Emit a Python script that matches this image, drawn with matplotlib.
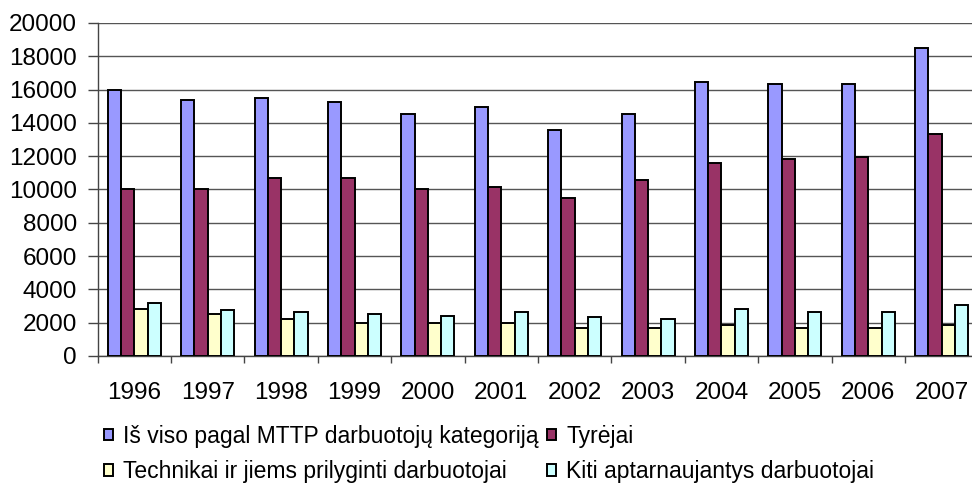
import numpy as np
import matplotlib
matplotlib.use("Agg")
import matplotlib.pyplot as plt
from matplotlib.ticker import MultipleLocator

plt.rcParams['font.family'] = ['Liberation Sans', 'DejaVu Sans']

# Data
years = ["1996", "1997", "1998", "1999", "2000", "2001",
         "2002", "2003", "2004", "2005", "2006", "2007"]
total = [16000, 15370, 15490, 15270, 14510, 14930, 13550, 14530, 16470, 16350, 16350, 18490]
researchers = [10050, 10050, 10690, 10690, 10010, 10130, 9500, 10550, 11610, 11830, 11950, 13350]
technicians = [2840, 2520, 2200, 1980, 1980, 1980, 1660, 1660, 1860, 1660, 1660, 1860]
others = [3180, 2740, 2640, 2520, 2420, 2640, 2320, 2200, 2840, 2640, 2640, 3080]

labels = ["Iš viso pagal MTTP darbuotojų kategoriją", "Tyrėjai",
          "Technikai ir jiems prilyginti darbuotojai", "Kiti aptarnaujantys darbuotojai"]
colors = ["#9999FF", "#993366", "#FFFFCC", "#CCFFFF"]

fig = plt.figure(figsize=(9.72, 4.84), dpi=100)
ax = fig.add_axes([0.1005, 0.2645, 0.906, 0.688])

x = np.arange(len(years))
w = 0.181
bars = []
for k, (vals, col, lab) in enumerate(zip([total, researchers, technicians, others], colors, labels)):
    b = ax.bar(x + (k - 1.5) * w, vals, width=w, color=col, edgecolor="black",
               linewidth=1.4, label=lab, zorder=3)
    bars.append(b)

ax.set_xlim(-0.5, len(years) - 0.5)
ax.set_ylim(0, 20000)
ax.yaxis.set_major_locator(MultipleLocator(2000))
ax.grid(axis="y", color="#555555", linewidth=1.0, zorder=0)

ax.set_xticks(x)
ax.set_xticklabels(years)
ax.set_xticks(np.arange(-0.5, len(years)), minor=True)
ax.tick_params(axis="x", which="major", length=0, pad=19, labelsize=17.5)
ax.tick_params(axis="x", which="minor", length=5, width=1, color="#444444")
ax.tick_params(axis="y", length=7, width=1, color="#444444", pad=8, labelsize=17.5)

for side in ["top", "right"]:
    ax.spines[side].set_visible(False)
for side in ["left", "bottom"]:
    ax.spines[side].set_color("#444444")
    ax.spines[side].set_linewidth(1.0)

# legend: two rows, entries ordered so rows read left to right
handles = [bars[0], bars[2], bars[1], bars[3]]
leg_labels = [labels[0], labels[2], labels[1], labels[3]]
fig.legend(handles, leg_labels, ncol=2, loc="upper left",
           bbox_to_anchor=(99 / 972, 1 - 420 / 484), borderaxespad=0, frameon=False,
           fontsize=16.5, handlelength=0.4, handleheight=0.4, handletextpad=0.45,
           columnspacing=0.35, labelspacing=0.55, borderpad=0.2)

fig.savefig("out.png", dpi=100)
